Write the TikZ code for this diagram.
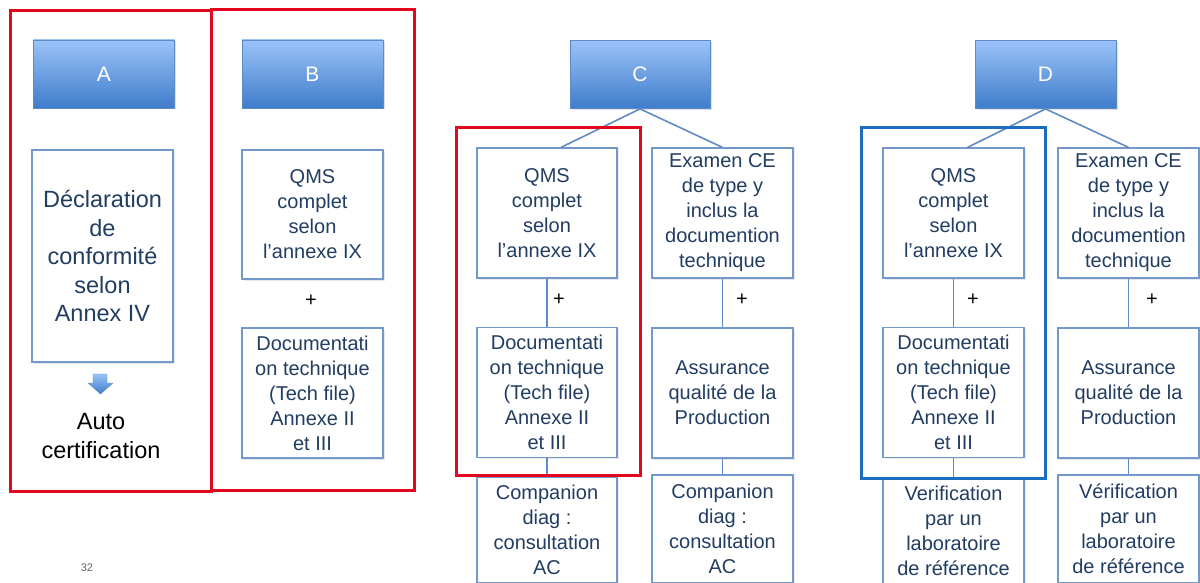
\documentclass[tikz,border=0pt]{standalone}
\usepackage{fontspec}
\setmainfont{Liberation Sans}
\usetikzlibrary{shadows,calc}
\definecolor{boxblue}{HTML}{7399CC}
\definecolor{txtblue}{HTML}{213D62}
\definecolor{hdtop}{HTML}{9BC3F8}
\definecolor{hdbot}{HTML}{3F7CCB}
\definecolor{hdline}{HTML}{5B8BC9}
\definecolor{framered}{HTML}{E2061F}
\definecolor{frameblue}{HTML}{1A6DC0}
\definecolor{linkblue}{HTML}{5F8CC6}
\tikzset{
  header/.style={draw=hdline, line width=0.8pt, top color=hdtop, bottom color=hdbot,
    text=white, font=\fontsize{21}{25}\selectfont, minimum width=141pt, minimum height=68pt,
    inner sep=0pt, drop shadow={opacity=0.25, shadow xshift=1.5pt, shadow yshift=-1.5pt}},
  infobox/.style={draw=boxblue, line width=1.2pt, fill=white, text=txtblue, align=center,
    font=\fontsize{20}{25}\selectfont, minimum width=141pt, inner sep=0pt,
    drop shadow={opacity=0.18, shadow xshift=1.5pt, shadow yshift=-1.5pt}},
  plus/.style={font=\fontsize{20}{24}\selectfont, text=black, inner sep=0pt},
  link/.style={draw=linkblue, line width=1.6pt},
  redframe/.style={draw=framered, line width=3pt},
  blueframe/.style={draw=frameblue, line width=3pt},
}
\begin{document}
\begin{tikzpicture}[x=1pt,y=-1pt]
\useasboundingbox (0,0) rectangle (1200,583);
\fill[white] (0,0) rectangle (1200,583);

% ---------- A ----------
\node[header] (hA) at (104,74) {A};
\node[infobox, minimum height=212pt, font=\fontsize{23.5}{28.5}\selectfont] (declA) at (102.5,256)
  {Déclaration\\de\\conformité\\selon\\Annex IV};
\shade[top color=hdtop, bottom color=hdbot, draw=hdline, line width=0.4pt]
  (93,374) -- (107,374) -- (107,383) -- (113,383) -- (100.5,394) -- (88,383) -- (93,383) -- cycle;
\node[text=black, align=center, font=\fontsize{23.5}{28.5}\selectfont, inner sep=0pt] (autoA) at (101,436)
  {Auto\\certification};

% ---------- B ----------
\node[header] (hB) at (312.5,74) {B};
\node[infobox, minimum height=129pt] (qmsB) at (312.5,214.5)
  {QMS\\complet\\selon\\l’annexe IX};
\node[plus] (plusB) at (311,301) {+};
\node[infobox, minimum height=130pt] (docB) at (312.5,393)
  {Documentati\\on technique\\(Tech file)\\Annexe II\\et III};

% ---------- C ----------
\node[header, minimum width=140pt] (hC) at (640,74.5) {C};
\node[infobox, minimum width=140pt, minimum height=130pt] (qmsC) at (547,213)
  {QMS\\complet\\selon\\l’annexe IX};
\node[infobox, minimum height=130pt] (exC) at (722.5,213)
  {Examen CE\\de type y\\inclus la\\documention\\technique};
\node[infobox, minimum width=140pt, minimum height=130pt] (docC) at (547,392.5)
  {Documentati\\on technique\\(Tech file)\\Annexe II\\et III};
\node[infobox, minimum height=130pt] (asC) at (722.5,393)
  {Assurance\\qualité de la\\Production};
\node[infobox, minimum width=140pt, minimum height=105pt] (compC) at (547,530)
  {Companion\\diag :\\consultation\\AC};
\node[infobox, minimum height=108pt] (compC2) at (722.5,529)
  {Companion\\diag :\\consultation\\AC};
\node[plus] (plusC1) at (559,300) {+};
\node[plus] (plusC2) at (742,300) {+};

% ---------- D ----------
\node[header] (hD) at (1045.5,74.5) {D};
\node[infobox, minimum height=130pt] (qmsD) at (953.5,213)
  {QMS\\complet\\selon\\l’annexe IX};
\node[infobox, minimum height=130pt] (exD) at (1128.5,213)
  {Examen CE\\de type y\\inclus la\\documention\\technique};
\node[infobox, minimum height=130pt] (docD) at (953.5,392.5)
  {Documentati\\on technique\\(Tech file)\\Annexe II\\et III};
\node[infobox, minimum height=130pt] (asD) at (1128.5,393)
  {Assurance\\qualité de la\\Production};
\node[infobox, minimum height=105pt] (verD) at (953.5,531)
  {Verification\\par un\\laboratoire\\de référence};
\node[infobox, minimum height=108pt] (verD2) at (1128.5,529)
  {Vérification\\par un\\laboratoire\\de référence};
\node[plus] (plusD1) at (973,300) {+};
\node[plus] (plusD2) at (1152,300) {+};

% ---------- connectors ----------
\draw[link] (hC.south) -- ([xshift=14pt]qmsC.north);
\draw[link] (hC.south) -- (exC.north);
\draw[link] (qmsC.south) -- (docC.north);
\draw[link] (docC.south) -- (compC.north);
\draw[link] (exC.south) -- (asC.north);
\draw[link] (asC.south) -- (compC2.north);
\draw[link] (hD.south) -- ([xshift=14pt]qmsD.north);
\draw[link] (hD.south) -- (exD.north);
\draw[link] (qmsD.south) -- (docD.north);
\draw[link] (docD.south) -- (verD.north);
\draw[link] (exD.south) -- (asD.north);
\draw[link] (asD.south) -- (verD2.north);

% ---------- frames ----------
\draw[redframe] (10,11) rectangle (211,491);
\draw[redframe] (211,10) rectangle (414,490);
\draw[redframe] (456,128) rectangle (640,475);
\draw[blueframe] (861,128) rectangle (1045,478);

% page number
\node[text=black!60, font=\fontsize{11}{13}\selectfont, inner sep=0pt] (pg) at (87,568) {32};
\end{tikzpicture}
\end{document}
